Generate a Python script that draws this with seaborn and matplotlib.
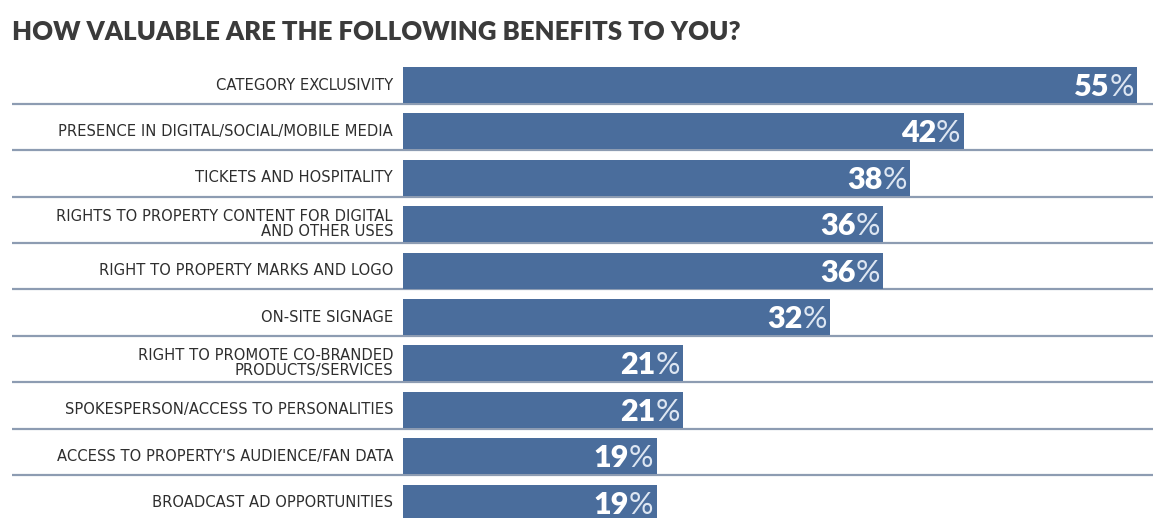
import matplotlib
matplotlib.use("Agg")
import matplotlib.pyplot as plt
import seaborn as sns
import pandas as pd

categories = [
    "CATEGORY EXCLUSIVITY",
    "PRESENCE IN DIGITAL/SOCIAL/MOBILE MEDIA",
    "TICKETS AND HOSPITALITY",
    "RIGHTS TO PROPERTY CONTENT FOR DIGITAL\nAND OTHER USES",
    "RIGHT TO PROPERTY MARKS AND LOGO",
    "ON-SITE SIGNAGE",
    "RIGHT TO PROMOTE CO-BRANDED\nPRODUCTS/SERVICES",
    "SPOKESPERSON/ACCESS TO PERSONALITIES",
    "ACCESS TO PROPERTY'S AUDIENCE/FAN DATA",
    "BROADCAST AD OPPORTUNITIES",
]
values = [55, 42, 38, 36, 36, 32, 21, 21, 19, 19]
title = "HOW VALUABLE ARE THE FOLLOWING BENEFITS TO YOU?"

df = pd.DataFrame({"benefit": categories, "value": values})

sns.set_style("white")
plt.rcParams["font.family"] = ["DejaVu Sans"]

W, H = 1153, 518
fig = plt.figure(figsize=(W / 100, H / 100), dpi=100)
fig.patch.set_facecolor("white")
ax = fig.add_axes([12 / W, 0, 1 - 12 / W, 1])

bar_color = "#4a6d9c"
sns.barplot(data=df, y="benefit", x="value", order=categories, orient="h",
            color=bar_color, saturation=1, width=0.78, ax=ax, zorder=3,
            linewidth=0, edgecolor="none")

# scale: 0 at px 403, 55 at px 1137
ppu = (1137 - 403) / 55
x0 = -(403 - 12) / ppu
ax.set_xlim(x0, x0 + (W - 12) / ppu)
# row centres: first at px 85, pitch 46.4
pitch = 46.4
ax.set_ylim((H - 85) / pitch, -85 / pitch)

for s in ax.spines.values():
    s.set_visible(False)
ax.set_xticks([])
ax.set_yticks([])
ax.set_xlabel("")
ax.set_ylabel("")

for i, (lab, v) in enumerate(zip(categories, values)):
    ax.axhline(i + 0.405, color="#8d9cb2", lw=1.6, zorder=2)
    ax.annotate(lab, xy=(0, i), xytext=(-10, 0), textcoords="offset pixels",
                ha="right", va="center", fontsize=10.6, color="#2e2e2e",
                family="DejaVu Sans", linespacing=1.0)
    pct = ax.annotate("%", xy=(v, i), xytext=(-3, -2), textcoords="offset pixels",
                      ha="right", va="center", fontsize=22, color="#dde6f2",
                      family="Lato", fontweight="normal", zorder=4)
    ax.annotate(f"{v}", xy=(0, 0), xycoords=pct, ha="right", va="bottom",
                fontsize=22, color="white", family="Lato", fontweight="heavy",
                zorder=4)

fig.text(12 / W, 1 - 32 / H, title, ha="left", va="center", fontsize=18.5,
         fontweight="heavy", family="Lato", color="#3b3b3b")

fig.savefig("out.png", dpi=100, facecolor="white")
